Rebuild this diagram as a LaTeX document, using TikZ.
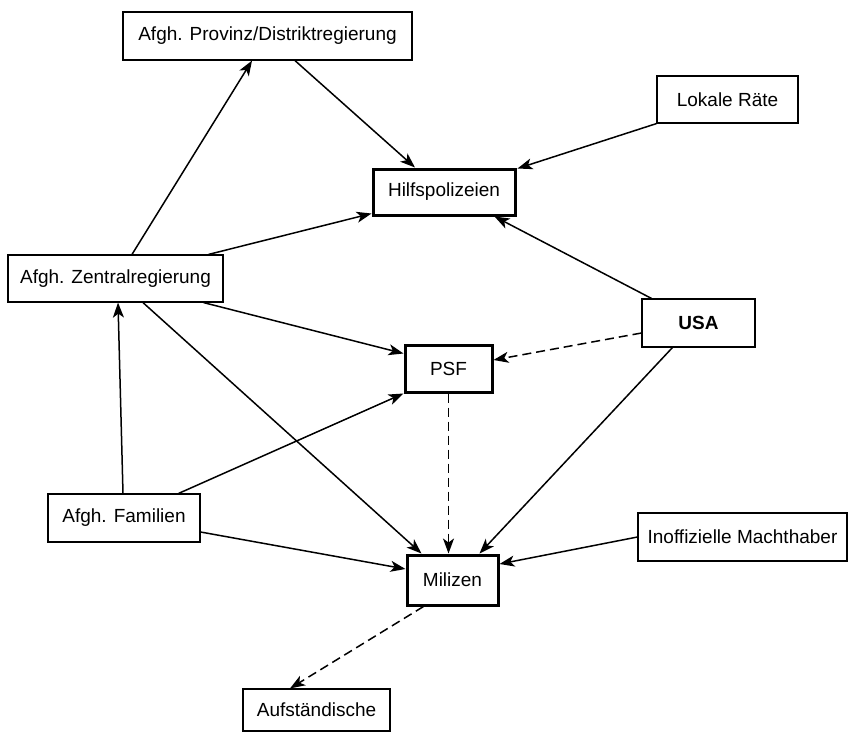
\documentclass[tikz,border=0pt]{standalone}
\usepackage{fontspec}
\setmainfont{Liberation Sans}
\usetikzlibrary{arrows.meta}
\begin{document}
\begin{tikzpicture}[x=1pt,y=-1pt,
  box/.style={draw, line width=1.2pt, inner sep=0pt, font=\fontsize{19pt}{23pt}\selectfont, text=black},
  thickbox/.style={box, line width=3pt},
  arr/.style={line width=1.5pt, -{Stealth[length=15pt,width=11pt,inset=4pt]}},
  darr/.style={arr, dash pattern=on 9pt off 5pt}]
\useasboundingbox (0,0) rectangle (848,732);
\node[box, minimum width=289pt, minimum height=48pt] (prov) at (267.5,36) {Afgh. Provinz/Distriktregierung};
\node[box, minimum width=141pt, minimum height=47pt] (lok) at (727.5,99.5) {Lokale Räte};
\node[thickbox, minimum width=142pt, minimum height=46pt] (hilf) at (444,192) {Hilfspolizeien};
\node[box, minimum width=215pt, minimum height=47pt] (zent) at (115.5,278.5) {Afgh. Zentralregierung};
\node[box, minimum width=113pt, minimum height=48pt, font=\fontsize{19pt}{23pt}\selectfont\bfseries] (usa) at (698.5,323) {USA};
\node[thickbox, minimum width=87pt, minimum height=47pt] (psf) at (448.5,368.5) {PSF};
\node[box, minimum width=152pt, minimum height=48pt] (fam) at (124,518) {Afgh. Familien};
\node[box, minimum width=209pt, minimum height=48pt] (inof) at (742.5,537) {Inoffizielle Machthaber};
\node[thickbox, minimum width=91pt, minimum height=50pt] (mil) at (452.5,580) {Milizen};
\node[box, minimum width=147pt, minimum height=42pt] (auf) at (316.5,710) {Aufständische};

\draw[arr] ([xshift=16.5pt]zent.north) -- ([xshift=-15.5pt]prov.south);
\draw[arr] ([xshift=27.5pt]prov.south) -- ([xshift=-29pt]hilf.north);
\draw[arr] (lok.south west) -- ([xshift=1pt,yshift=-1pt]hilf.north east);
\draw[arr] ([xshift=-15pt]zent.north east) -- ([yshift=3pt]hilf.south west);
\draw[arr] ([xshift=10pt]usa.north west) -- ([xshift=-22pt]hilf.south east);
\draw[arr] ([xshift=-20pt]zent.south east) -- ([yshift=-10pt]psf.north west);
\draw[darr] ([yshift=-10pt]usa.west) -- ([yshift=8.5pt]psf.east);
\draw[arr] ([xshift=-22pt]fam.north east) -- (psf.south west);
\draw[arr] ([xshift=-1pt]fam.north) -- ([xshift=2.5pt]zent.south);
\draw[arr] ([xshift=27.5pt]zent.south) -- ([xshift=16pt]mil.north west);
\draw[darr] (psf.south) -- (psf.south |- mil.north);
\draw[arr] ([xshift=31pt]usa.south west) -- ([xshift=-20pt]mil.north east);
\draw[arr] ([yshift=-14pt]fam.east) -- ([yshift=11pt]mil.west);
\draw[arr] (inof.west) -- ([yshift=16pt]mil.east);
\draw[darr] ([xshift=18pt]mil.south west) -- ([xshift=-26.5pt]auf.north);
\end{tikzpicture}
\end{document}
